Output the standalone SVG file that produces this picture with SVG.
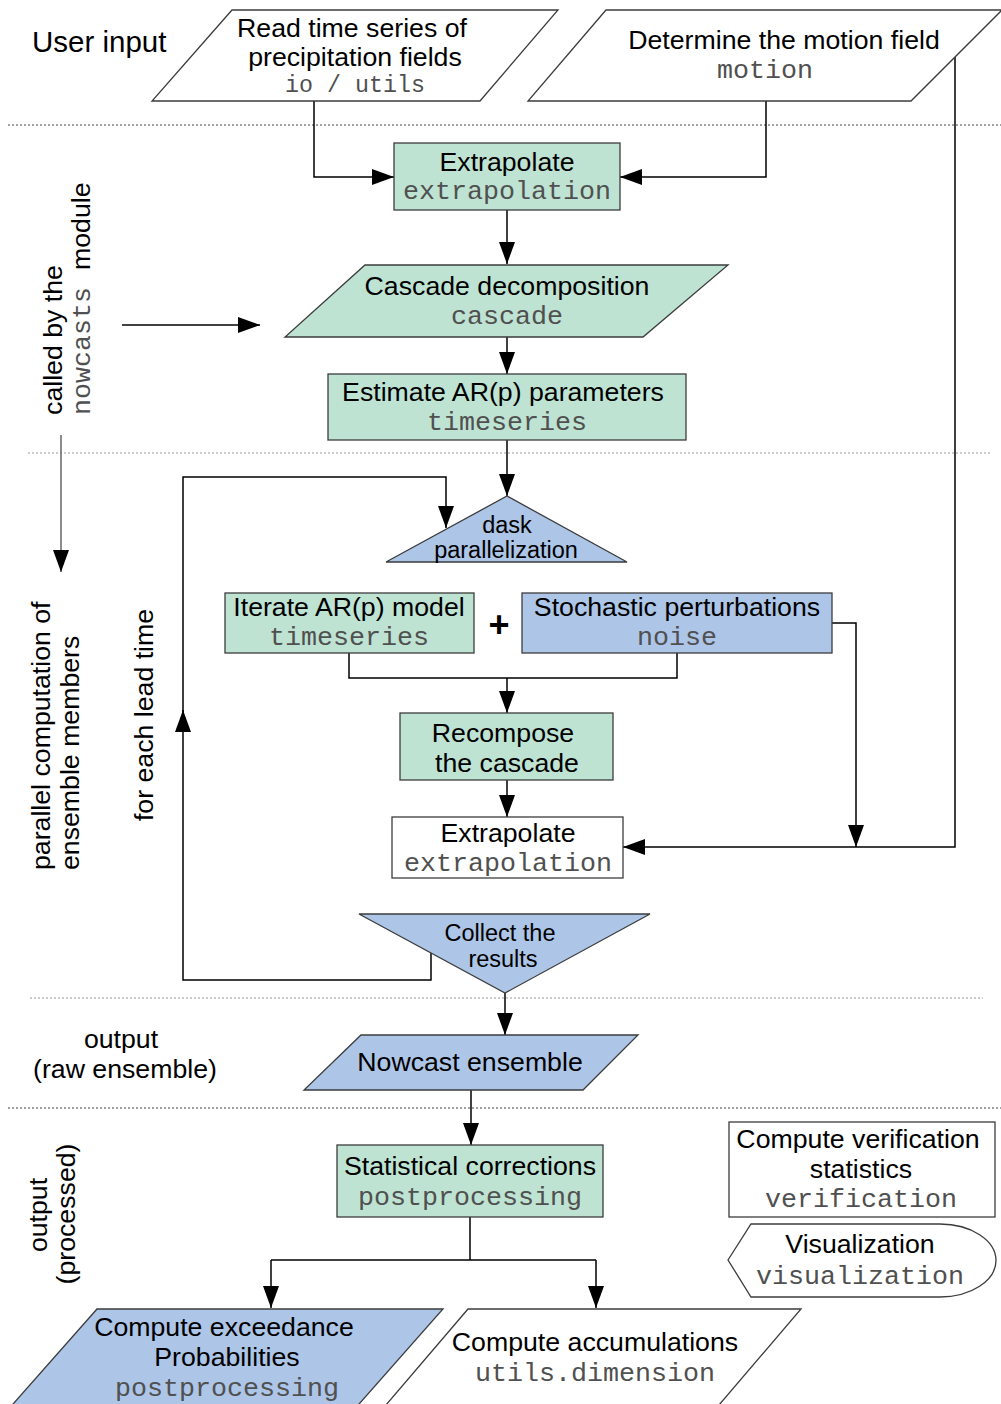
<svg xmlns="http://www.w3.org/2000/svg" width="1001" height="1404" viewBox="0 0 1001 1404">
<style>
.s{font-family:"Liberation Sans",Arial,sans-serif;font-size:26.7px;fill:#000;text-anchor:middle}
.t{font-family:"Liberation Sans",Arial,sans-serif;font-size:23.5px;fill:#000;text-anchor:middle}
.m{font-family:"Liberation Mono","Courier New",monospace;font-size:26.7px;fill:#505050;text-anchor:middle}
.g{fill:#bee3d3;stroke:#3c3c3c;stroke-width:1.3}
.b{fill:#adc5e7;stroke:#3c3c3c;stroke-width:1.3}
.w{fill:#fff;stroke:#3c3c3c;stroke-width:1.3}
.c{fill:none;stroke:#000;stroke-width:1.5}
.dl{fill:none;stroke:#444;stroke-width:1.2;stroke-dasharray:2,2}
.dl2{fill:none;stroke:#999;stroke-width:1.2;stroke-dasharray:2,2}
</style>
<defs>
<marker id="ah" viewBox="0 0 22 16" refX="22" refY="8" markerWidth="22" markerHeight="16" markerUnits="userSpaceOnUse" orient="auto"><path d="M0,0 L22,8 L0,16 Z" fill="#000"/></marker>
<marker id="ahg" viewBox="0 0 22 16" refX="22" refY="8" markerWidth="22" markerHeight="16" markerUnits="userSpaceOnUse" orient="auto"><path d="M0,0 L22,8 L0,16 Z" fill="#000"/></marker>
</defs>
<rect width="1001" height="1404" fill="#fff"/>

<g id="separators">
<line class="dl" x1="8" y1="125" x2="1001" y2="125"/>
<line class="dl2" x1="28" y1="453" x2="990" y2="453"/>
<line class="dl2" x1="30" y1="998" x2="983" y2="998"/>
<line class="dl" x1="8" y1="1108" x2="1001" y2="1108"/>
</g>

<g id="labels">
<text class="s" x="32" y="52" style="text-anchor:start;font-size:29.5px">User input</text>
<text class="s" transform="translate(62,340) rotate(-90)">called by the</text>
<text class="s" transform="translate(90,415) rotate(-90)" style="text-anchor:start"><tspan class="m" style="text-anchor:start">nowcasts</tspan><tspan x="145">module</tspan></text>
<text class="s" transform="translate(50,870) rotate(-90)" style="text-anchor:start">parallel computation of</text>
<text class="s" transform="translate(79,870) rotate(-90)" style="text-anchor:start">ensemble members</text>
<text class="s" transform="translate(153,715) rotate(-90)">for each lead time</text>
<text class="s" x="121" y="1048">output</text>
<text class="s" x="125" y="1078">(raw ensemble)</text>
<text class="s" transform="translate(47,1215) rotate(-90)">output</text>
<text class="s" transform="translate(75,1214) rotate(-90)">(processed)</text>
<text class="s" x="499" y="637" style="font-size:36px;font-weight:bold">+</text>
</g>

<g id="connectors">
<path class="c" d="M314,101 V177 H394" marker-end="url(#ah)"/>
<path class="c" d="M766,101 V177 H620" marker-end="url(#ah)"/>
<path class="c" d="M955,57 V847 H623" marker-end="url(#ah)"/>
<path class="c" d="M507,210 V264" marker-end="url(#ah)"/>
<path class="c" d="M507,337 V374" marker-end="url(#ah)"/>
<path class="c" d="M507,440 V496" marker-end="url(#ah)"/>
<path class="c" d="M122,325 H260" marker-end="url(#ah)"/>
<path fill="none" stroke="#666" stroke-width="1.5" d="M61,435 V572" marker-end="url(#ahg)"/>
<path class="c" d="M431,953 V980 H183 V710" marker-end="url(#ah)"/>
<path class="c" d="M183,712 V477 H446 V528" marker-end="url(#ah)"/>
<path class="c" d="M349,653 V678 H677 V653"/>
<path class="c" d="M507,678 V713" marker-end="url(#ah)"/>
<path class="c" d="M832,623 H856 V847" marker-end="url(#ah)"/>
<path class="c" d="M507,780 V817" marker-end="url(#ah)"/>
<path class="c" d="M505,993 V1035" marker-end="url(#ah)"/>
<path class="c" d="M471,1090 V1145" marker-end="url(#ah)"/>
<path class="c" d="M470,1217 V1260"/>
<path class="c" d="M271,1260 H596"/>
<path class="c" d="M271,1260 V1308" marker-end="url(#ah)"/>
<path class="c" d="M596,1260 V1308" marker-end="url(#ah)"/>
</g>

<g id="read-input">
<polygon class="w" points="232,10 558,10 480,101 152,101"/>
<text class="s" x="352" y="37">Read time series of</text>
<text class="s" x="355" y="66">precipitation fields</text>
<text class="m" x="355" y="92" style="font-size:23.3px">io / utils</text>
</g>

<g id="motion">
<polygon class="w" points="606,10 1002,10 911,101 528,101"/>
<text class="s" x="784" y="49">Determine the motion field</text>
<text class="m" x="765" y="78">motion</text>
</g>

<g id="extrapolate1">
<rect class="g" x="394" y="143" width="226" height="67"/>
<text class="s" x="507" y="171">Extrapolate</text>
<text class="m" x="507" y="199">extrapolation</text>
</g>

<g id="cascade">
<polygon class="g" points="365,265 728,265 643,337 285,337"/>
<text class="s" x="507" y="295">Cascade decomposition</text>
<text class="m" x="507" y="324">cascade</text>
</g>

<g id="estimate-ar">
<rect class="g" x="328" y="374" width="358" height="66"/>
<text class="s" x="503" y="401">Estimate AR(p) parameters</text>
<text class="m" x="507" y="430">timeseries</text>
</g>

<g id="dask">
<polygon class="b" points="507,496 627,562 386,562"/>
<text class="t" x="507" y="533">dask</text>
<text class="t" x="506" y="558">parallelization</text>
</g>

<g id="iterate-ar">
<rect class="g" x="225" y="593" width="249" height="60"/>
<text class="s" x="349" y="616">Iterate AR(p) model</text>
<text class="m" x="349" y="645">timeseries</text>
</g>

<g id="noise">
<rect class="b" x="522" y="593" width="310" height="60"/>
<text class="s" x="677" y="616">Stochastic perturbations</text>
<text class="m" x="677" y="645">noise</text>
</g>

<g id="recompose">
<rect class="g" x="400" y="713" width="213" height="67"/>
<text class="s" x="503" y="742">Recompose</text>
<text class="s" x="507" y="772">the cascade</text>
</g>

<g id="extrapolate2">
<rect class="w" x="392" y="817" width="231" height="61"/>
<text class="s" x="508" y="842">Extrapolate</text>
<text class="m" x="508" y="871">extrapolation</text>
</g>

<g id="collect">
<polygon class="b" points="359,914 650,914 505,993"/>
<text class="t" x="500" y="941">Collect the</text>
<text class="t" x="503" y="967">results</text>
</g>

<g id="nowcast-ensemble">
<polygon class="b" points="361,1035 638,1035 583,1090 304,1090"/>
<text class="s" x="470" y="1071">Nowcast ensemble</text>
</g>

<g id="statistical-corrections">
<rect class="g" x="337" y="1145" width="266" height="72"/>
<text class="s" x="470" y="1175">Statistical corrections</text>
<text class="m" x="470" y="1205">postprocessing</text>
</g>

<g id="verification">
<rect class="w" x="729" y="1122" width="266" height="95"/>
<text class="s" x="858" y="1148">Compute verification</text>
<text class="s" x="861" y="1178">statistics</text>
<text class="m" x="861" y="1207">verification</text>
</g>

<g id="visualization">
<path class="w" d="M728,1260 L751,1224 H940 A56,36.5 0 0 1 940,1297 H751 Z"/>
<text class="s" x="860" y="1253">Visualization</text>
<text class="m" x="860" y="1284">visualization</text>
</g>

<g id="exceedance">
<polygon class="b" points="97,1309 443,1309 352,1412 6,1412"/>
<text class="s" x="224" y="1336">Compute exceedance</text>
<text class="s" x="227" y="1366">Probabilities</text>
<text class="m" x="227" y="1396">postprocessing</text>
</g>

<g id="accumulations">
<polygon class="w" points="468,1309 801,1309 713,1412 380,1412"/>
<text class="s" x="595" y="1351">Compute accumulations</text>
<text class="m" x="595" y="1381">utils.dimension</text>
</g>
</svg>
